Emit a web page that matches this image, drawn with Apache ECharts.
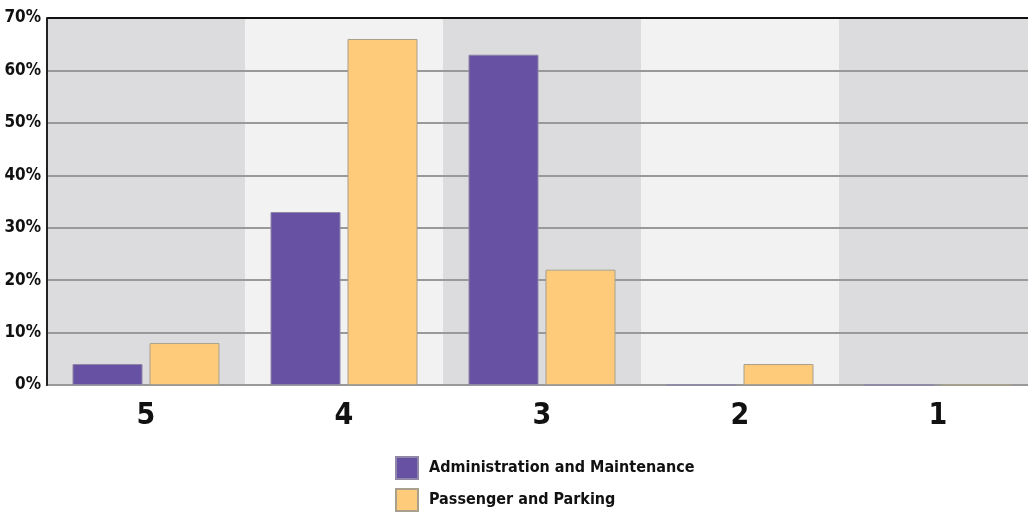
<!DOCTYPE html>
<html>
<head>
<meta charset="utf-8">
<script src="https://cdn.jsdelivr.net/npm/echarts@6/dist/echarts.min.js"></script>
<style>
  html, body { margin: 0; padding: 0; background: #ffffff; }
  #chart { width: 1028px; height: 512px; }
</style>
</head>
<body>
<div id="chart"></div>
<script>
// Rating categories, from highest to lowest
const categories = ['5', '4', '3', '2', '1'];
// Share of responses per rating (%)
const adminMaintenance = [4, 33, 63, 0, 0];
const passengerParking = [8, 66, 22, 4, 0];
const seriesNames = ['Administration and Maintenance', 'Passenger and Parking'];

const FONT = '"Liberation Sans Narrow", "DejaVu Sans Condensed", sans-serif';

const chart = echarts.init(document.getElementById('chart'));
chart.setOption({
  animation: false,
  backgroundColor: '#ffffff',
  grid: { left: 47, top: 18, width: 990, height: 367, containLabel: false, outerBoundsMode: 'none' },
  legend: {
    orient: 'vertical',
    left: 395,
    top: 456,
    width: 400,
    height: 120,
    padding: 0,
    itemWidth: 22,
    itemHeight: 22,
    itemGap: 8,
    icon: 'rect',
    textStyle: { fontFamily: FONT, fontWeight: 'bold', fontSize: 16, color: '#111', padding: [2, 0, 0, 6] },
    data: seriesNames
  },
  xAxis: {
    type: 'category',
    data: categories,
    z: 0,
    axisLine: { show: true, lineStyle: { color: '#333', width: 2 } },
    axisTick: { show: false },
    axisLabel: { fontFamily: FONT, fontWeight: 'bold', fontSize: 30, color: '#111', margin: 16 },
    splitArea: { show: true, areaStyle: { color: ['#dcdcde', '#f2f2f2'] } }
  },
  yAxis: {
    type: 'value',
    min: 0,
    max: 70,
    interval: 10,
    z: 1,
    axisLine: { show: true, lineStyle: { color: '#222', width: 2 } },
    axisTick: { show: false },
    axisLabel: { fontFamily: FONT, fontWeight: 'bold', fontSize: 17, color: '#111', margin: 6, formatter: '{value}%' },
    splitLine: {
      show: true,
      lineStyle: { color: ['#999', '#999', '#999', '#999', '#999', '#999', '#999', '#111'], width: 2 }
    }
  },
  series: [
    {
      name: seriesNames[0],
      type: 'bar',
      data: adminMaintenance,
      barWidth: 70,
      barGap: '10%',
      z: 3,
      itemStyle: { color: '#6651a3', borderColor: '#8f86a8', borderWidth: 1 }
    },
    {
      name: seriesNames[1],
      type: 'bar',
      data: passengerParking,
      barWidth: 70,
      z: 3,
      itemStyle: { color: '#fecb7a', borderColor: '#a8a08c', borderWidth: 1 }
    }
  ]
});
</script>
</body>
</html>
